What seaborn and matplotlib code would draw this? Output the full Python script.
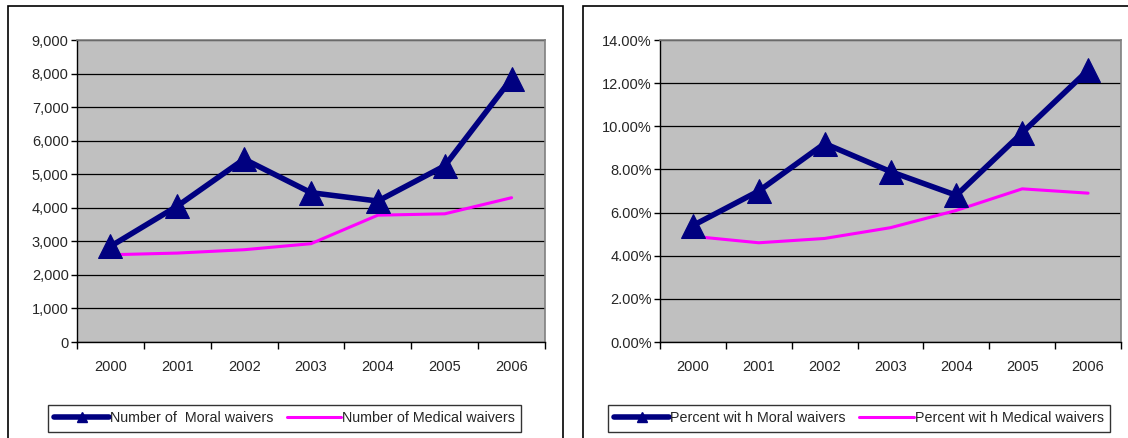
import numpy as np
import pandas as pd
import matplotlib
matplotlib.use("Agg")
import matplotlib.pyplot as plt
import seaborn as sns
from matplotlib.lines import Line2D
from matplotlib.patches import Rectangle
from matplotlib.ticker import FixedLocator, FuncFormatter

years = [2000, 2001, 2002, 2003, 2004, 2005, 2006]
moral_count = [2850, 4050, 5450, 4450, 4200, 5250, 7850]
medical_count = [2600, 2650, 2750, 2930, 3780, 3820, 4300]
moral_pct = [5.4, 7.0, 9.2, 7.9, 6.8, 9.7, 12.6]
medical_pct = [4.9, 4.6, 4.8, 5.3, 6.1, 7.1, 6.9]

sns.set_style("white")
plt.rcParams['font.family'] = ['Liberation Sans', 'DejaVu Sans']

W, H = 1128, 438
fig = plt.figure(figsize=(W / 100, H / 100), dpi=100)

NAVY = "#000080"
PINK = "#FF00FF"
FS = 10.5


def px_axes(l, t, r, b):
    return fig.add_axes([l / W, 1 - b / H, (r - l) / W, (b - t) / H])


def style_chart(ax, ymax, ystep, fmt):
    ax.set_facecolor("#C0C0C0")
    ax.set_xlim(1999.5, 2006.5)
    ax.set_ylim(0, ymax)
    ax.set_yticks(np.arange(0, ymax + ystep / 2, ystep))
    ax.yaxis.set_major_formatter(FuncFormatter(fmt))
    ax.grid(axis="y", color="black", linewidth=0.9)
    ax.set_axisbelow(True)
    # excel style: ticks between categories, labels at centers
    ax.xaxis.set_major_locator(FixedLocator(np.arange(1999.5, 2007, 1)))
    ax.xaxis.set_minor_locator(FixedLocator(years))
    ax.xaxis.set_major_formatter(FuncFormatter(lambda v, p: ""))
    ax.xaxis.set_minor_formatter(FuncFormatter(lambda v, p: str(int(round(v)))))
    ax.tick_params(axis="x", which="major", direction="out", length=5, width=1, color="black", bottom=True)
    ax.tick_params(axis="x", which="minor", length=0, pad=13, labelsize=FS)
    ax.tick_params(axis="y", direction="out", length=4, width=1, color="black", left=True, labelsize=FS, pad=2)
    for s in ["top", "right"]:
        ax.spines[s].set_color("#808080")
        ax.spines[s].set_linewidth(1.2)
    for s in ["left", "bottom"]:
        ax.spines[s].set_color("black")
        ax.spines[s].set_linewidth(1.0)
    ax.set_xlabel("")
    ax.set_ylabel("")


def draw_lines(ax, moral, medical):
    df = pd.DataFrame({"year": years, "moral": moral, "medical": medical})
    sns.lineplot(data=df, x="year", y="medical", ax=ax, color=PINK, linewidth=2.2, zorder=3)
    sns.lineplot(data=df, x="year", y="moral", ax=ax, color=NAVY, linewidth=4.0,
                 marker="^", markersize=17, markeredgecolor=NAVY, zorder=4)


# outer chart borders
fig.add_artist(Rectangle((8 / W, -0.1), (563 - 8) / W, 1.1 - 6 / H, transform=fig.transFigure,
                         fill=False, edgecolor="black", linewidth=1.2))
fig.add_artist(Rectangle((583 / W, -0.1), 0.6, 1.1 - 6 / H, transform=fig.transFigure,
                         fill=False, edgecolor="black", linewidth=1.2))

ax1 = px_axes(77, 40, 545, 342)
draw_lines(ax1, moral_count, medical_count)
style_chart(ax1, 9000, 1000, lambda v, p: f"{int(v):,}")

ax2 = px_axes(660, 40, 1121, 342)
draw_lines(ax2, moral_pct, medical_pct)
style_chart(ax2, 14, 2, lambda v, p: f"{v:.2f}%")


def make_legend(l, t, r, b, labels):
    h_moral = Line2D([], [], color=NAVY, linewidth=4.0, marker="^", markersize=7, markevery=[1],
                     markeredgecolor=NAVY)
    h_med = Line2D([], [], color=PINK, linewidth=2.2)
    leg = fig.legend([h_moral, h_med], labels, ncol=2, loc="center",
                     bbox_to_anchor=[l / W, 1 - b / H, (r - l) / W, (b - t) / H],
                     mode="expand", frameon=True, fancybox=False, handlelength=3.8,
                     handletextpad=0.05, columnspacing=0.6, borderpad=0.45, fontsize=10.3,
                     borderaxespad=0)
    leg.get_frame().set_edgecolor("black")
    leg.get_frame().set_linewidth(1.0)
    return leg


make_legend(48, 404, 521, 433, ["Number of  Moral waivers", "Number of Medical waivers"])
make_legend(608, 404, 1110, 433, ["Percent wit h Moral waivers", "Percent wit h Medical waivers"])

fig.savefig("out.png", dpi=100)
